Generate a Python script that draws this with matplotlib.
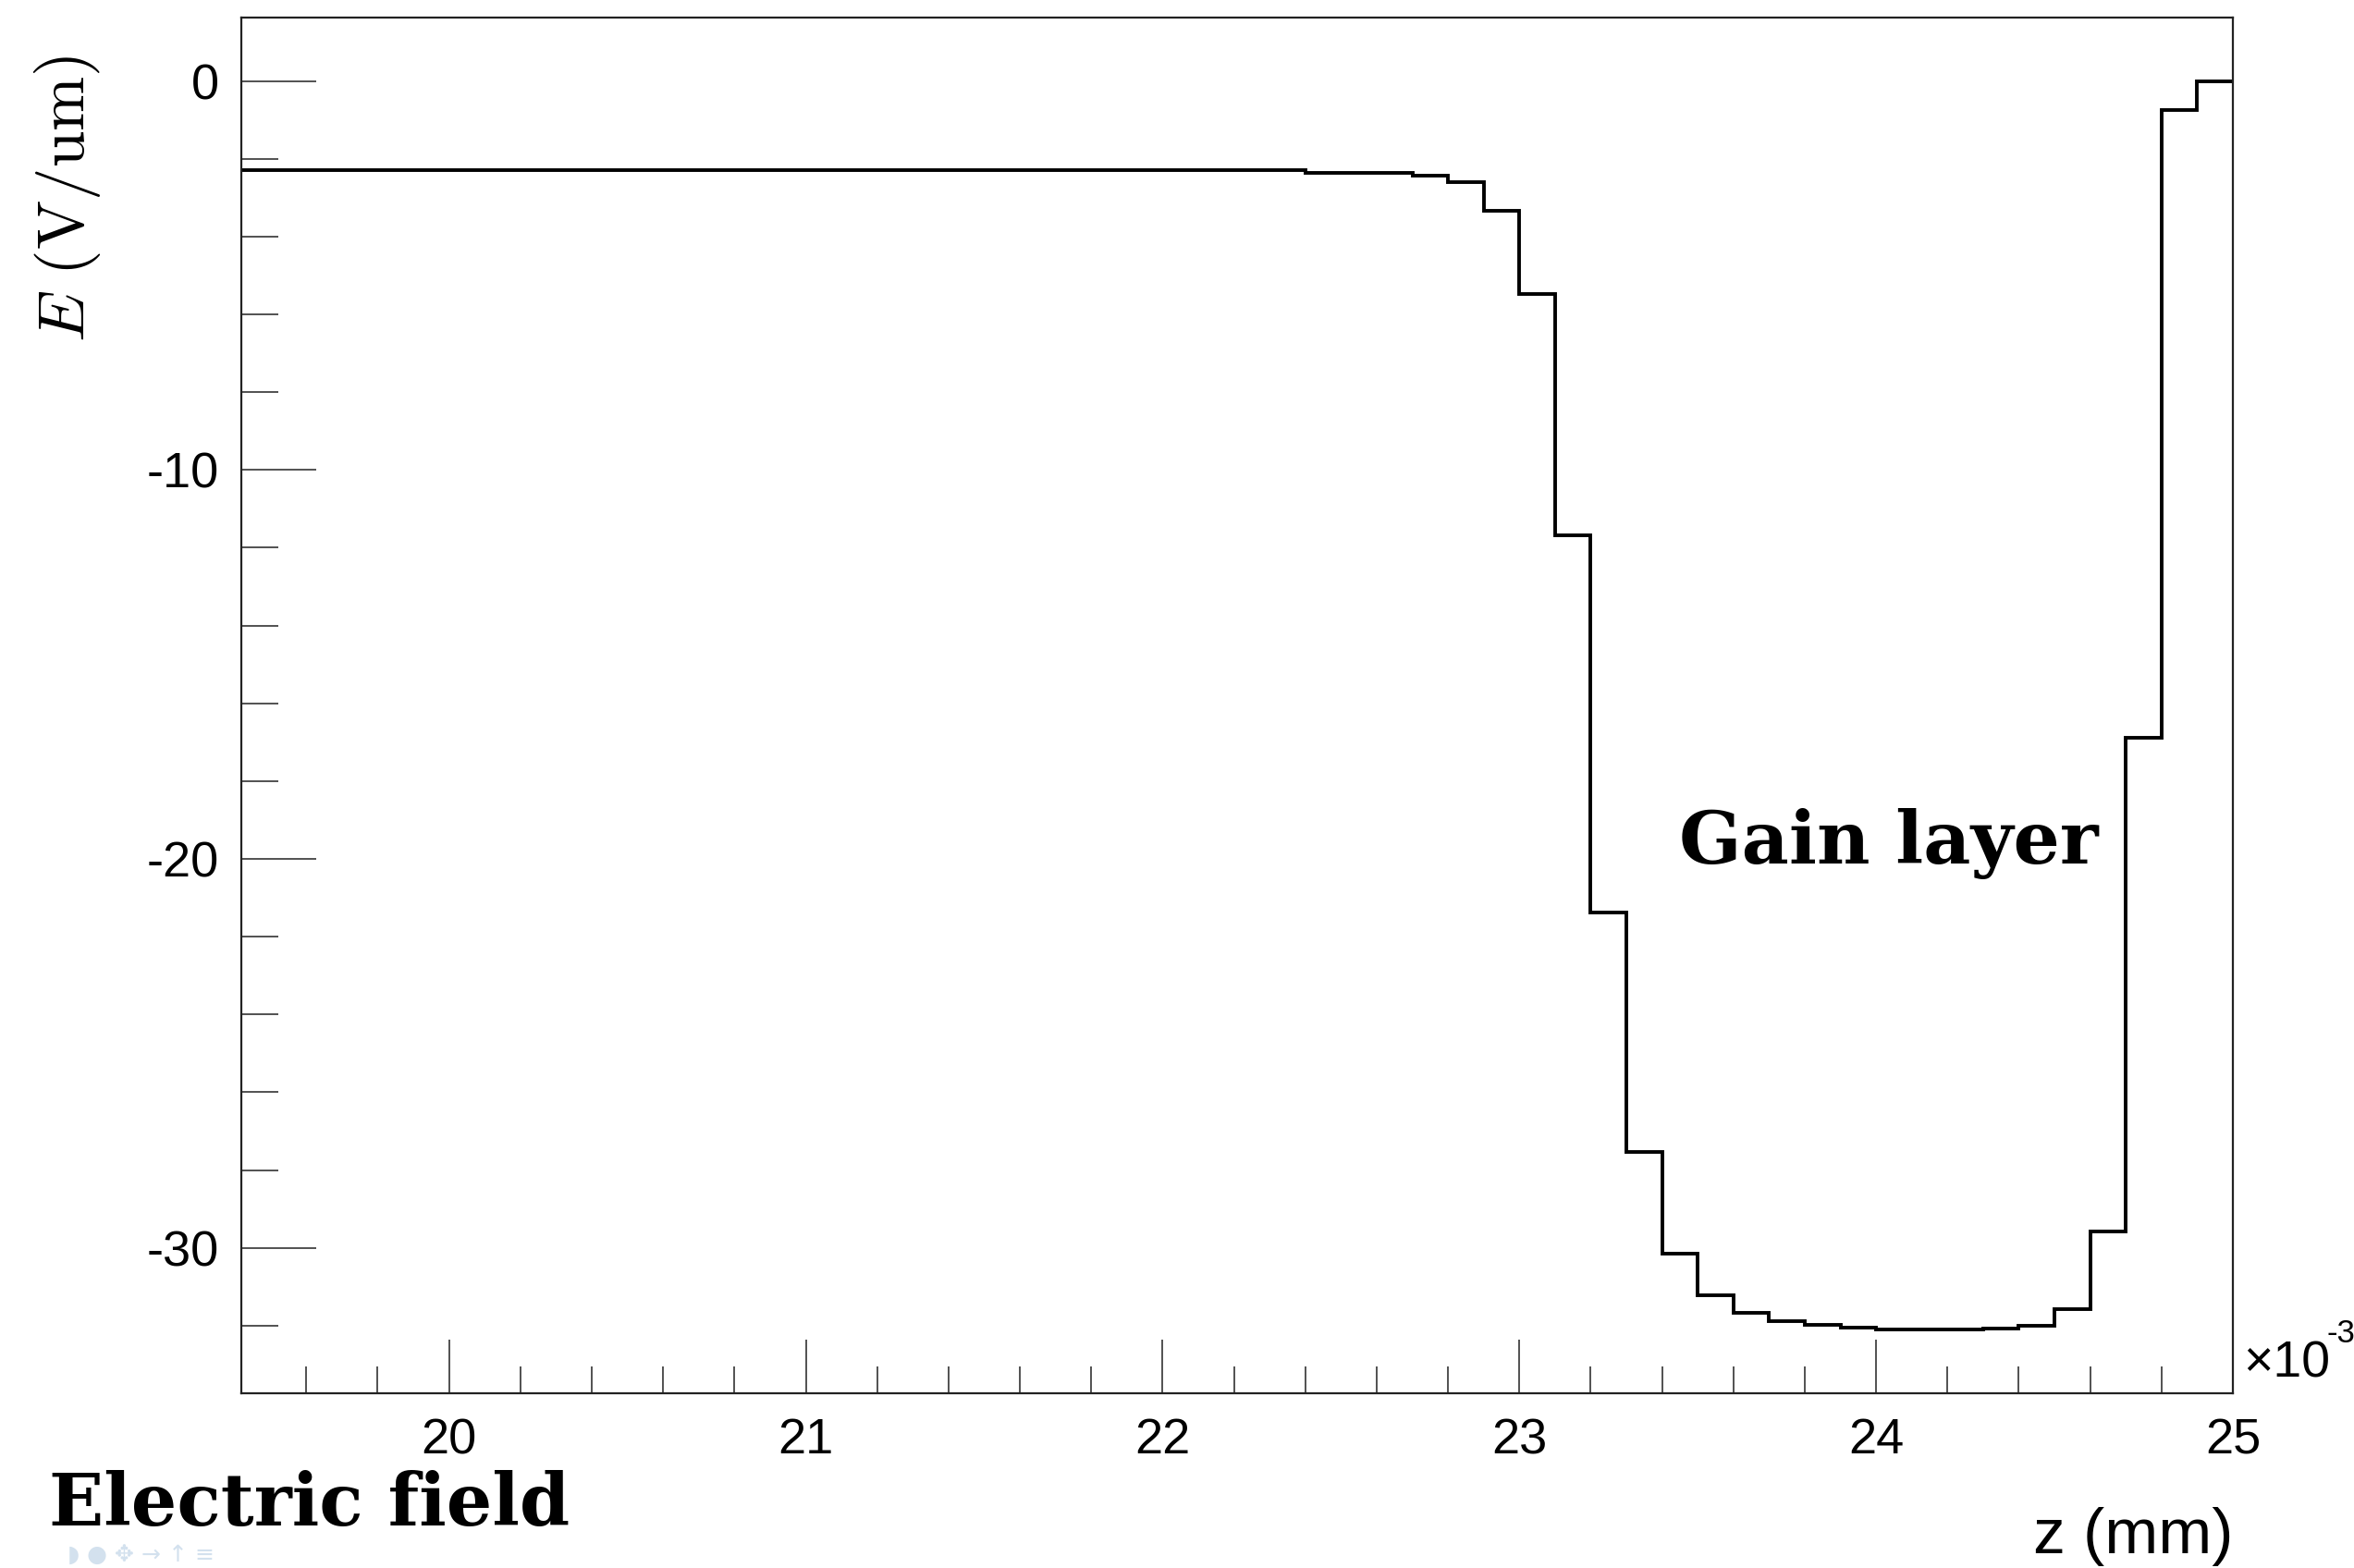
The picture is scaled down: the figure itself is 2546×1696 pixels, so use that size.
import matplotlib
matplotlib.use("Agg")
import matplotlib.pyplot as plt
from matplotlib.ticker import MultipleLocator

plt.rcParams["axes.unicode_minus"] = False

# ── DATA (z in units of 1e-3 mm, E in V/um) ─────────────────────────────────
bin_edges = [19.4, 22.4, 22.5, 22.6, 22.7, 22.8, 22.9, 23.0, 23.1, 23.2,
             23.3, 23.4, 23.5, 23.6, 23.7, 23.8, 23.9, 24.0, 24.1, 24.2,
             24.3, 24.4, 24.5, 24.6, 24.7, 24.8, 24.9, 25.0]
e_field = [-2.28, -2.36, -2.36, -2.37, -2.43, -2.61, -3.34, -5.48, -11.67,
           -21.37, -27.54, -30.16, -31.21, -31.66, -31.89, -31.99, -32.05,
           -32.09, -32.10, -32.10, -32.08, -32.01, -31.58, -29.57, -16.88,
           -0.75, 0.0]

x_major = [20, 21, 22, 23, 24, 25]
y_major = [0, -10, -20, -30]

W, H = 2546, 1696
fig = plt.figure(figsize=(W / 100, H / 100), dpi=100)
fig.patch.set_facecolor("white")

ax = fig.add_axes([260.7 / W, 1 - 1507 / H, (2415 - 260.7) / W, (1507 - 19) / H])
ax.stairs(e_field, bin_edges, baseline=None, color="black", linewidth=2.8)

ax.set_xlim(19.417, 25.0)
ax.set_ylim(-33.74, 1.633)

# ── AXES STYLE (ROOT-like) ──────────────────────────────────────────────────
for s in ax.spines.values():
    s.set_linewidth(1.6)
    s.set_color("#222222")

ax.set_xticks(x_major)
ax.set_yticks(y_major)
ax.xaxis.set_minor_locator(MultipleLocator(0.2))
ax.yaxis.set_minor_locator(MultipleLocator(2))
ax.tick_params(which="both", direction="in", top=False, right=False,
               color="#333333", width=1.2)
ax.tick_params(axis="x", which="major", length=42, pad=19)
ax.tick_params(axis="x", which="minor", length=21)
ax.tick_params(axis="y", which="major", length=58, pad=17)
ax.tick_params(axis="y", which="minor", length=29)
for lab in ax.get_xticklabels() + ax.get_yticklabels():
    lab.set_fontfamily("Liberation Sans")
    lab.set_fontsize(39)

# ── LABELS ──────────────────────────────────────────────────────────────────
fig.text(73 / W, 1 - 215 / H, r"$E\ (\mathrm{V/um})$", rotation=90,
         ha="center", va="center", fontsize=51, math_fontfamily="cm")

fig.text(2415 / W, 2 / H, "z (mm)", ha="right", va="bottom",
         fontsize=50, fontfamily="Liberation Sans")

fig.text(2426 / W, 1 - 1489 / H, "×10", ha="left", va="baseline",
         fontsize=40, fontfamily="Liberation Sans")
fig.text(2516 / W, 1 - 1452 / H, "-3", ha="left", va="baseline",
         fontsize=25, fontfamily="Liberation Sans")

fig.text(1816 / W, 1 - 934 / H, "Gain layer", ha="left", va="baseline",
         fontsize=57, fontweight="bold", fontfamily="DejaVu Serif")

fig.text(53 / W, 1 - 1650 / H, "Electric field", ha="left", va="baseline",
         fontsize=56, fontweight="bold", fontfamily="DejaVu Serif")

# faint beamer navigation symbols
fig.text(73 / W, 1 / H, "◗ ● ✥ → ↑ ≡", ha="left", va="bottom",
         fontsize=18, color="#d3e1ee", fontfamily="DejaVu Sans")

fig.savefig("out.png", dpi=100, facecolor="white")
